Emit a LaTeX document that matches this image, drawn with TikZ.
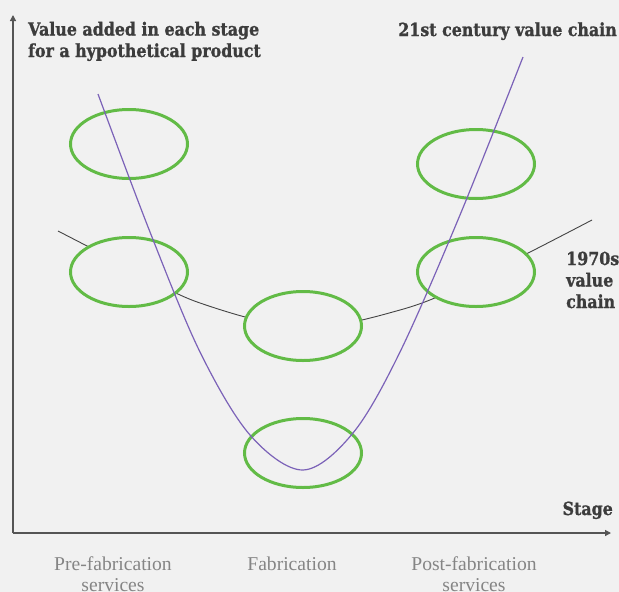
\documentclass[tikz,border=0pt]{standalone}
\usepackage{fontspec}
\usetikzlibrary{shapes.geometric,arrows.meta}
\newfontfamily\headfont{DejaVu Serif}[FakeStretch=0.88,BoldFeatures={FakeBold=1.2}]
\newfontfamily\labelfont{Liberation Serif}
\definecolor{bg}{HTML}{F1F1F1}
\definecolor{ringgreen}{HTML}{62BB46}
\definecolor{chainpurple}{HTML}{7B62B8}
\definecolor{headgray}{HTML}{3C3C3C}
\definecolor{labelgray}{HTML}{858585}
\definecolor{axisgray}{HTML}{555555}
\definecolor{oldline}{HTML}{444444}
\begin{document}
\begin{tikzpicture}[x=1pt,y=-1pt,
  ring/.style={ellipse,draw=ringgreen,line width=3pt,fill=bg,minimum width=117pt,minimum height=69pt,inner sep=0pt},
  axis/.style={draw=axisgray,line width=1.3pt,-{Triangle[length=6pt,width=6pt]}},
  head/.style={font=\headfont\bfseries\fontsize{18}{21.5}\selectfont,text=headgray,inner sep=0pt},
  stagelabel/.style={font=\labelfont\fontsize{19.6}{21}\selectfont,text=labelgray,align=center,inner sep=0pt}]
\fill[bg] (0,0) rectangle (619,592);
\useasboundingbox (0,0) rectangle (619,592);
% axes
\coordinate (O) at (13,533);
\coordinate (ytop) at (13,15);
\coordinate (xend) at (611,533);
\draw[axis] (O) -- (ytop);
\draw[axis] (O) -- (xend);
% 1970s value chain curve (behind rings)
\draw[oldline,line width=0.9pt] plot[smooth,tension=0.6] coordinates {(58,231) (130,268) (200,303) (303,327) (400,310) (476,279) (592,220)};
% rings
\node[ring] (pre21) at (129,144) {};
\node[ring] (pre70) at (129,272) {};
\node[ring] (fab70) at (303,326) {};
\node[ring] (fab21) at (303,453) {};
\node[ring] (post21) at (476,164) {};
\node[ring] (post70) at (476,272) {};
% 21st century curve
\draw[chainpurple,line width=1.2pt] plot[smooth,tension=0.55] coordinates {(98,94) (150,232) (200,352) (250,435) (303,470) (353,433) (400,352) (460,215) (523,57)};
% texts
\node[head,anchor=base west,align=left] (title) at (28,57) {Value added in each stage\\for a hypothetical product};
\node[head,anchor=base east] (new) at (617,36) {21st century value chain};
\node[head,anchor=base west,align=left] (old) at (566,308) {1970s\\value\\chain};
\node[head,anchor=base east] (stage) at (613,515) {Stage};
\node[stagelabel,anchor=base] (lpre) at (113,591) {Pre-fabrication\\services};
\node[stagelabel,anchor=base] (lfab) at (292,570) {Fabrication};
\node[stagelabel,anchor=base] (lpost) at (474,591) {Post-fabrication\\services};
\end{tikzpicture}
\end{document}
